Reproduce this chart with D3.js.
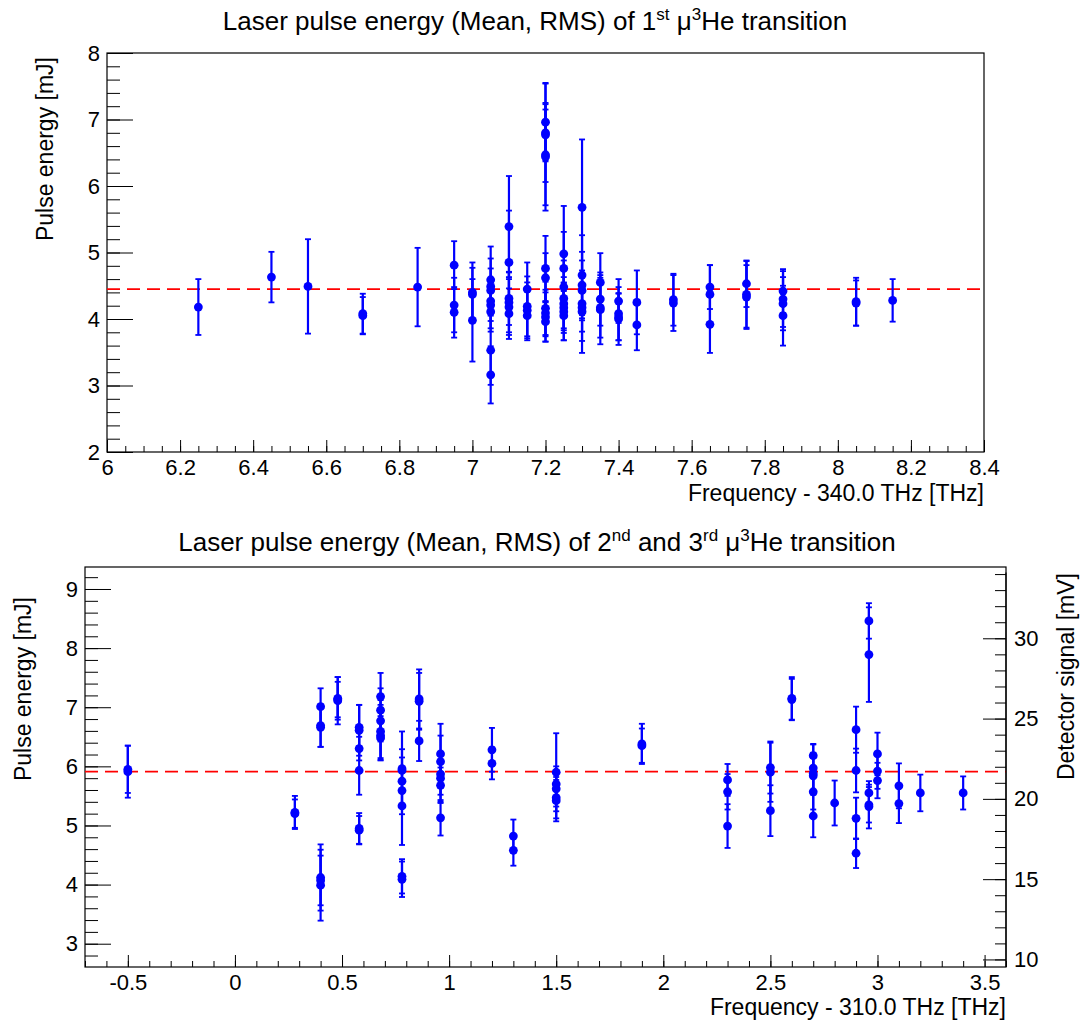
<!DOCTYPE html>
<html>
<head>
<meta charset="utf-8">
<script src="https://cdn.jsdelivr.net/npm/d3@7"></script>
<style>
  body { margin: 0; background: #fff; }
  svg text { font-family: "Liberation Sans", Arial, Helvetica, sans-serif; fill: #000; }
</style>
</head>
<body>
<svg id="chart" width="1083" height="1023"></svg>
<script>
// ---- data: first transition (340 THz) ----
const topFreq = [6.25, 6.45, 6.55, 6.70, 6.70, 6.85,
  6.95, 6.95, 6.95, 7.00, 7.00, 7.00,
  7.05, 7.05, 7.05, 7.05, 7.05, 7.05, 7.05, 7.05,
  7.10, 7.10, 7.10, 7.10, 7.10, 7.10,
  7.15, 7.15, 7.15, 7.15,
  7.20, 7.20, 7.20, 7.20, 7.20, 7.20, 7.20, 7.20, 7.20, 7.20, 7.20,
  7.25, 7.25, 7.25, 7.25, 7.25, 7.25, 7.25, 7.25,
  7.30, 7.30, 7.30, 7.30, 7.30, 7.30, 7.30,
  7.35, 7.35, 7.35, 7.35,
  7.40, 7.40, 7.40, 7.40,
  7.45, 7.45, 7.55, 7.55,
  7.65, 7.65, 7.65, 7.75, 7.75, 7.75,
  7.85, 7.85, 7.85, 7.85, 8.05, 8.05, 8.15];
const topEnergy = [4.18, 4.63, 4.49, 4.05, 4.08, 4.48,
  4.81, 4.21, 4.10, 4.40, 4.37, 3.98,
  4.59, 4.49, 4.43, 4.27, 4.21, 4.11, 3.53, 3.16,
  5.39, 4.85, 4.31, 4.25, 4.18, 4.08,
  4.45, 4.19, 4.13, 4.05,
  6.96, 6.80, 6.77, 6.47, 6.44, 4.76, 4.62, 4.16, 4.09, 4.03, 3.96,
  4.98, 4.76, 4.48, 4.31, 4.23, 4.17, 4.11, 4.05,
  5.68, 4.66, 4.51, 4.43, 4.23, 4.17, 4.11,
  4.55, 4.30, 4.17, 4.14,
  4.27, 4.08, 4.03, 4.00,
  4.25, 3.91, 4.29, 4.24,
  4.48, 4.37, 3.92, 4.53, 4.37, 4.33,
  4.42, 4.30, 4.23, 4.05, 4.26, 4.24, 4.28];
const topRms = [0.42, 0.38, 0.71, 0.28, 0.30, 0.59,
  0.36, 0.41, 0.38, 0.45, 0.40, 0.62,
  0.50, 0.42, 0.33, 0.30, 0.35, 0.30, 0.52, 0.43,
  0.76, 0.78, 0.40, 0.45, 0.42, 0.38,
  0.40, 0.45, 0.42, 0.37,
  0.59, 0.74, 0.38, 0.76, 0.81, 0.49, 0.37, 0.40, 0.35, 0.37, 0.30,
  0.72, 0.55, 0.40, 0.45, 0.40, 0.38, 0.43, 0.37,
  1.02, 0.60, 0.50, 0.45, 0.42, 0.50, 0.62,
  0.44, 0.40, 0.45, 0.52,
  0.33, 0.40, 0.35, 0.39,
  0.48, 0.38, 0.39, 0.42,
  0.33, 0.44, 0.43, 0.35, 0.50, 0.48,
  0.33, 0.42, 0.40, 0.45, 0.36, 0.34, 0.32];
const topMean = 4.45;

// ---- data: second and third transition (310 THz) ----
const botFreq = [-0.50, -0.50, 0.28, 0.28,
  0.40, 0.40, 0.40, 0.40, 0.40, 0.40,
  0.48, 0.48, 0.48,
  0.58, 0.58, 0.58, 0.58, 0.58, 0.58,
  0.68, 0.68, 0.68, 0.68, 0.68, 0.68,
  0.78, 0.78, 0.78, 0.78, 0.78, 0.78, 0.78,
  0.86, 0.86, 0.86,
  0.96, 0.96, 0.96, 0.96, 0.96, 0.96,
  1.20, 1.20, 1.30, 1.30,
  1.50, 1.50, 1.50, 1.50, 1.50,
  1.90, 1.90, 2.30, 2.30, 2.30,
  2.50, 2.50, 2.50, 2.60, 2.60,
  2.70, 2.70, 2.70, 2.70, 2.70, 2.70, 2.80,
  2.90, 2.90, 2.90, 2.90,
  2.96, 2.96, 2.96, 2.96, 2.96,
  3.00, 3.00, 3.00, 3.10, 3.10, 3.20, 3.40];
const botEnergy = [5.95, 5.91, 5.22, 5.20,
  7.01, 6.69, 6.66, 4.12, 4.07, 3.99,
  7.15, 7.11, 7.13,
  6.66, 6.61, 6.30, 5.93, 4.95, 4.92,
  7.18, 6.95, 6.77, 6.59, 6.52, 6.48,
  5.96, 5.93, 5.75, 5.59, 5.33, 4.14, 4.09,
  7.14, 7.10, 6.43,
  6.21, 6.08, 5.87, 5.80, 5.68, 5.13,
  6.28, 6.05, 4.82, 4.58,
  5.90, 5.70, 5.62, 5.47, 5.42,
  6.38, 6.35, 5.77, 5.57, 4.99,
  5.98, 5.90, 5.25, 7.15, 7.13,
  6.18, 5.97, 5.88, 5.84, 5.57, 5.16, 5.38,
  6.62, 5.93, 5.12, 4.53,
  8.46, 7.89, 5.55, 5.35, 5.32,
  6.21, 5.92, 5.76, 5.67, 5.37, 5.55, 5.55];
const botRms = [0.40, 0.44, 0.28, 0.24,
  0.31, 0.36, 0.33, 0.56, 0.42, 0.60,
  0.36, 0.40, 0.30,
  0.38, 0.43, 0.20, 0.41, 0.26, 0.24,
  0.40, 0.37, 0.35, 0.45, 0.42, 0.37,
  0.63, 0.36, 0.40, 0.40, 0.66, 0.29, 0.30,
  0.50, 0.48, 0.34,
  0.51, 0.44, 0.35, 0.40, 0.30, 0.30,
  0.37, 0.27, 0.28, 0.26,
  0.66, 0.30, 0.30, 0.35, 0.35,
  0.34, 0.29, 0.27, 0.30, 0.37,
  0.44, 0.50, 0.43, 0.36, 0.35,
  0.20, 0.40, 0.35, 0.30, 0.30, 0.36, 0.38,
  0.39, 0.37, 0.35, 0.25,
  0.30, 0.80, 0.20, 0.30, 0.37,
  0.36, 0.30, 0.30, 0.38, 0.33, 0.31, 0.28];
const botMean = 5.91;

// tick labels
const topXTicks = [6, 6.2, 6.4, 6.6, 6.8, 7, 7.2, 7.4, 7.6, 7.8, 8, 8.2, 8.4];
const topYTicks = [2, 3, 4, 5, 6, 7, 8];
const botXTicks = [-0.5, 0, 0.5, 1, 1.5, 2, 2.5, 3, 3.5];
const botYTicks = [3, 4, 5, 6, 7, 8, 9];
const detTicks = [10, 15, 20, 25, 30];

const svg = d3.select("#chart");

function title(g, x, y, parts) {
  const t = g.append("text").attr("x", x).attr("y", y)
    .attr("text-anchor", "middle").style("font-size", "26px");
  let shift = 0;
  parts.forEach(p => {
    const sup = p[1];
    const dy = sup ? -10 - shift : -shift;
    shift = sup ? -10 : 0;
    t.append("tspan").attr("dy", dy)
      .style("font-size", sup ? "17px" : "26px").text(p[0]);
  });
}

function panel(opt) {
  const {left, right, top, bottom} = opt;
  const g = svg.append("g");
  const x = d3.scaleLinear().domain(opt.xDomain).range([left, right]);
  const y = d3.scaleLinear().domain(opt.yDomain).range([bottom, top]);

  g.append("rect").attr("x", left).attr("y", top)
    .attr("width", right - left).attr("height", bottom - top)
    .attr("fill", "#fff").attr("stroke", "#000").attr("stroke-width", 1.2);

  // minor ticks
  g.append("g").attr("transform", `translate(0,${bottom})`)
    .call(d3.axisBottom(x).tickValues(opt.xMinor).tickSize(-6).tickFormat(""))
    .call(a => a.select(".domain").remove());
  g.append("g").attr("transform", `translate(${left},0)`)
    .call(d3.axisLeft(y).tickValues(opt.yMinor).tickSize(-13).tickFormat(""))
    .call(a => a.select(".domain").remove());

  // major ticks + labels
  const xa = g.append("g").attr("transform", `translate(0,${bottom})`)
    .call(d3.axisBottom(x).tickValues(opt.xTicks).tickSize(-12).tickPadding(7)
      .tickFormat(d => String(+d.toFixed(2))));
  xa.select(".domain").remove();
  xa.selectAll("text").style("font-size", "22px");

  const ya = g.append("g").attr("transform", `translate(${left},0)`)
    .call(d3.axisLeft(y).tickValues(opt.yTicks).tickSize(-26).tickPadding(7)
      .tickFormat(d => String(d)));
  ya.select(".domain").remove();
  ya.selectAll("text").style("font-size", "22px");

  g.selectAll(".tick line").attr("stroke", "#000");

  // mean line
  g.append("line").attr("x1", left).attr("x2", right)
    .attr("y1", y(opt.mean)).attr("y2", y(opt.mean))
    .attr("stroke", "#ff0000").attr("stroke-width", 1.6)
    .attr("stroke-dasharray", "13,7");

  // points with RMS bars
  const idx = d3.range(opt.xs.length);
  const pts = g.append("g").attr("fill", "#0000ff").attr("stroke", "#0000ff");
  pts.selectAll(".bar").data(idx).join("line")
    .attr("x1", i => x(opt.xs[i])).attr("x2", i => x(opt.xs[i]))
    .attr("y1", i => y(opt.ys[i] - opt.es[i])).attr("y2", i => y(opt.ys[i] + opt.es[i]))
    .attr("stroke-width", 2.2);
  pts.selectAll(".capHi").data(idx).join("line")
    .attr("x1", i => x(opt.xs[i]) - 3).attr("x2", i => x(opt.xs[i]) + 3)
    .attr("y1", i => y(opt.ys[i] + opt.es[i])).attr("y2", i => y(opt.ys[i] + opt.es[i]))
    .attr("stroke-width", 1.8);
  pts.selectAll(".capLo").data(idx).join("line")
    .attr("x1", i => x(opt.xs[i]) - 3).attr("x2", i => x(opt.xs[i]) + 3)
    .attr("y1", i => y(opt.ys[i] - opt.es[i])).attr("y2", i => y(opt.ys[i] - opt.es[i]))
    .attr("stroke-width", 1.8);
  pts.selectAll("circle").data(idx).join("circle")
    .attr("cx", i => x(opt.xs[i])).attr("cy", i => y(opt.ys[i]))
    .attr("r", 4.4).attr("stroke", "none");

  // axis titles
  g.append("text").attr("x", right).attr("y", opt.xTitleY)
    .attr("text-anchor", "end").style("font-size", "23px").text(opt.xTitle);
  g.append("text").attr("transform", `translate(${opt.yTitleX},${top + opt.yTitleOff}) rotate(-90)`)
    .attr("text-anchor", "end").style("font-size", "23px").text("Pulse energy [mJ]");

  return {g, x, y};
}

// top panel
const p1 = panel({
  left: 107, right: 984, top: 53, bottom: 452,
  xDomain: [6, 8.4], yDomain: [2, 8],
  xTicks: topXTicks, yTicks: topYTicks,
  xMinor: d3.range(6, 8.4001, 0.05), yMinor: d3.range(2, 8.001, 0.2),
  xs: topFreq, ys: topEnergy, es: topRms, mean: topMean,
  xTitle: "Frequency - 340.0 THz [THz]", xTitleY: 501,
  yTitleX: 53, yTitleOff: 4
});
title(svg, 535, 30, [["Laser pulse energy (Mean, RMS) of 1", false], ["st", true],
  [" \u03bc", false], ["3", true], ["He transition", false]]);

// bottom panel
const p2 = panel({
  left: 85, right: 1006, top: 567, bottom: 967,
  xDomain: [-0.7, 3.6], yDomain: [2.606, 9.372],
  xTicks: botXTicks, yTicks: botYTicks,
  xMinor: d3.range(-0.7, 3.6001, 0.1), yMinor: d3.range(2.8, 9.3, 0.2),
  xs: botFreq, ys: botEnergy, es: botRms, mean: botMean,
  xTitle: "Frequency - 310.0 THz [THz]", xTitleY: 1015,
  yTitleX: 31, yTitleOff: 30
});
title(svg, 537, 551, [["Laser pulse energy (Mean, RMS) of 2", false], ["nd", true],
  [" and 3", false], ["rd", true], [" \u03bc", false], ["3", true], ["He transition", false]]);

// right axis: detector signal
const yDet = d3.scaleLinear().domain([9.53, 34.44]).range([967, 567]);
const ra = p2.g.append("g").attr("transform", "translate(1006,0)");
ra.append("g").call(d3.axisRight(yDet).tickValues(d3.range(10, 34.5, 1)).tickSize(-11).tickFormat(""))
  .call(a => a.select(".domain").remove());
const raMaj = ra.append("g").call(d3.axisRight(yDet).tickValues(detTicks).tickSize(-23).tickPadding(8));
raMaj.select(".domain").remove();
raMaj.selectAll("text").style("font-size", "22px");
ra.append("line").attr("x1", 0).attr("x2", 0).attr("y1", yDet(9.53)).attr("y2", yDet(34.1))
  .attr("stroke", "#000").attr("stroke-width", 1.2);
ra.selectAll(".tick line").attr("stroke", "#000");
p2.g.append("text").attr("transform", "translate(1074,573) rotate(-90)")
  .attr("text-anchor", "end").style("font-size", "23px").text("Detector signal [mV]");
</script>
</body>
</html>
